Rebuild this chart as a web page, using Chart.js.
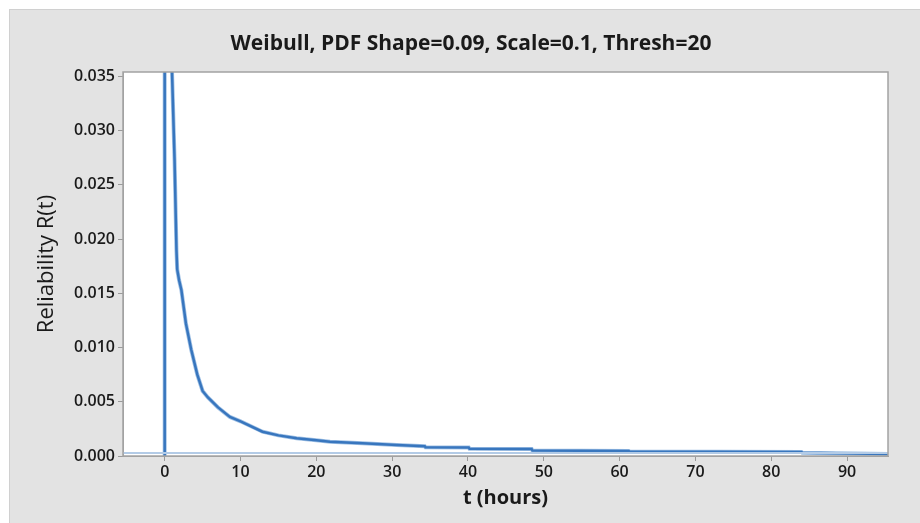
<!DOCTYPE html>
<html>
<head>
<meta charset="utf-8">
<script src="https://cdn.jsdelivr.net/npm/chart.js@4/dist/chart.umd.min.js"></script>
<style>
  html, body { margin: 0; padding: 0; background: #ffffff; }
  #wrap { width: 920px; height: 523px; position: relative; }
</style>
</head>
<body>
<div id="wrap"><canvas id="c" width="920" height="523"></canvas></div>
<script>
// ---- data ----
const chartTitle = "Weibull, PDF Shape=0.09, Scale=0.1, Thresh=20";
const xAxisTitle = "t (hours)";
const yAxisTitle = "Reliability R(t)";

const xTickValues = [0, 10, 20, 30, 40, 50, 60, 70, 80, 90];
const yTickValues = [0.000, 0.005, 0.010, 0.015, 0.020, 0.025, 0.030, 0.035];
const xRange = [-5.5, 95.4];
const yRange = [0, 0.0354];

// decaying curve (t, R)
const curveT = [0.92, 1.3, 1.55, 1.65, 1.9, 2.2, 2.8, 3.5, 4.3, 5.0, 5.7, 7.0, 8.6, 10.0, 12.9, 15.0, 17.4, 20.0, 21.8, 26.1, 30.6, 34.3, 34.4, 40.1, 40.2, 48.4, 48.5, 61.2, 61.3, 84.0, 84.1, 95.4];
const curveR = [0.0365, 0.0273, 0.0190, 0.0172, 0.0162, 0.0153, 0.0122, 0.0098, 0.0075, 0.0060, 0.0054, 0.0045, 0.0036, 0.0032, 0.00224, 0.0019, 0.00163, 0.00145, 0.00132, 0.00117, 0.00101, 0.00090, 0.00080, 0.00078, 0.00066, 0.00064, 0.00051, 0.00047, 0.00041, 0.00036, 0.00030, 0.00018];

// vertical spike at t = 0
const spikeT = [0, 0];
const spikeR = [0, 0.0365];

// faint baseline near zero
const baseT = [-5.5, 95.4];
const baseR = [0.00028, 0.00028];

// ---- build datasets ----
const toPts = (xs, ys) => xs.map((x, i) => ({ x: x, y: ys[i] }));

const panelPlugin = {
  id: 'panel',
  beforeDraw(chart) {
    const ctx = chart.ctx;
    const ca = chart.chartArea;
    ctx.save();
    ctx.fillStyle = '#ffffff';
    ctx.fillRect(0, 0, chart.width, chart.height);
    ctx.fillStyle = '#e3e3e3';
    ctx.fillRect(9, 9, chart.width - 9, chart.height - 9);
    ctx.strokeStyle = '#d0d0d0';
    ctx.lineWidth = 1;
    ctx.strokeRect(9.5, 9.5, chart.width, chart.height);
    ctx.fillStyle = '#ffffff';
    ctx.fillRect(ca.left, ca.top, ca.right - ca.left, ca.bottom - ca.top);
    ctx.restore();
  },
  afterDraw(chart) {
    const ctx = chart.ctx;
    const ca = chart.chartArea;
    ctx.save();
    ctx.strokeStyle = '#a3a3a3';
    ctx.lineWidth = 1.5;
    ctx.strokeRect(ca.left, ca.top, ca.right - ca.left, ca.bottom - ca.top);
    ctx.restore();
  }
};

const FONT = "'Open Sans', 'Noto Sans', sans-serif";
const HALO = 'rgba(80,140,205,0.55)';
const CORE = '#1c5cab';

new Chart(document.getElementById('c'), {
  type: 'line',
  data: {
    datasets: [
      { data: toPts(baseT, baseR), borderColor: '#b3cbe6', borderWidth: 2, pointRadius: 0, tension: 0 },
      { data: toPts(curveT, curveR), borderColor: HALO, borderWidth: 4, pointRadius: 0, tension: 0 },
      { data: toPts(curveT, curveR), borderColor: CORE, borderWidth: 2.5, pointRadius: 0, tension: 0 },
      { data: toPts(spikeT, spikeR), borderColor: HALO, borderWidth: 4, pointRadius: 0, tension: 0 },
      { data: toPts(spikeT, spikeR), borderColor: CORE, borderWidth: 2.5, pointRadius: 0, tension: 0 }
    ]
  },
  options: {
    responsive: false,
    animation: false,
    layout: { padding: { left: 54, right: 32, top: 9, bottom: 10 } },
    plugins: {
      legend: { display: false },
      tooltip: { enabled: false },
      title: {
        display: true,
        text: chartTitle,
        color: '#1a1a1a',
        font: { family: FONT, size: 21, weight: 'bold', lineHeight: 1.2 },
        padding: { top: 22.4, bottom: 15.4 }
      }
    },
    scales: {
      x: {
        type: 'linear',
        min: xRange[0],
        max: xRange[1],
        afterBuildTicks: (s) => { s.ticks = xTickValues.map(v => ({ value: v })); },
        afterFit: (s) => { s.height = 57; },
        grid: { drawOnChartArea: false, drawTicks: true, tickLength: 5, color: '#9a9a9a' },
        border: { display: true, color: '#a3a3a3' },
        ticks: {
          color: '#1a1a1a', padding: 2, maxRotation: 0, autoSkip: false,
          font: { family: FONT, size: 16, weight: '600' },
          callback: (v) => String(v)
        },
        title: {
          display: true, text: xAxisTitle, color: '#1a1a1a',
          font: { family: FONT, size: 20, weight: 'bold', lineHeight: 1.2 },
          padding: { top: 0, bottom: 3 }
        }
      },
      y: {
        type: 'linear',
        min: yRange[0],
        max: yRange[1],
        afterBuildTicks: (s) => { s.ticks = yTickValues.map(v => ({ value: v })); },
        afterFit: (s) => { s.width = 69; },
        grid: { drawOnChartArea: false, drawTicks: true, tickLength: 5, color: '#9a9a9a' },
        border: { display: true, color: '#a3a3a3' },
        ticks: {
          color: '#1a1a1a', padding: 3, autoSkip: false,
          font: { family: FONT, size: 16, weight: '600' },
          callback: (v) => Number(v).toFixed(3)
        },
        title: {
          display: true, text: yAxisTitle, color: '#1a1a1a',
          font: { family: FONT, size: 22, weight: 'normal', lineHeight: 1.2 },
          padding: { top: -20.2, bottom: 0 }
        }
      }
    }
  },
  plugins: [panelPlugin]
});
</script>
</body>
</html>
